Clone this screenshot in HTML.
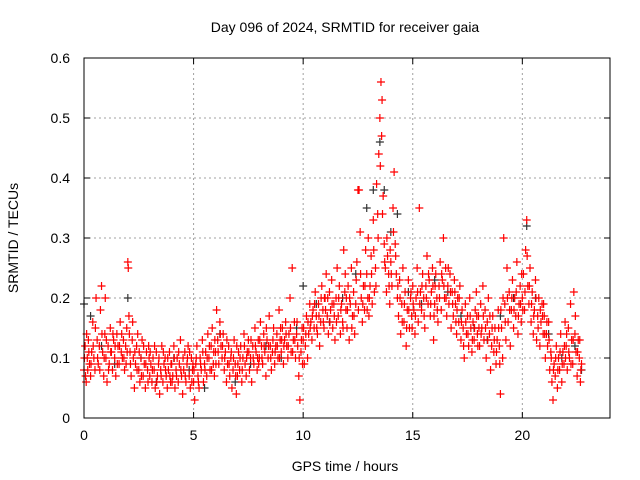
<!DOCTYPE html>
<html><head><meta charset="utf-8"><style>
html,body{margin:0;padding:0;background:#fff}
svg{display:block;font-family:"Liberation Sans",sans-serif}
</style></head><body>
<svg id="chart" width="640" height="480" viewBox="0 0 640 480">
<rect width="640" height="480" fill="#fff"/>
<text x="345" y="32" font-size="14" text-anchor="middle" fill="#000">Day 096 of 2024, SRMTID for receiver gaia</text>
<text x="345" y="471" font-size="14" text-anchor="middle">GPS time / hours</text>
<text transform="translate(18,238) rotate(-90)" font-size="14" text-anchor="middle">SRMTID / TECUs</text>
<g id="grid"></g>
<g id="ticks"></g>
<g id="black"></g>
<g id="red"></g>
<rect x="84" y="58" width="526" height="360" fill="none" stroke="#000" stroke-width="1"/>
</svg>
<script>
const xTicks=[0,5,10,15,20];
const yTicks=[0,0.1,0.2,0.3,0.4,0.5,0.6];
const yTickLabels=["0","0.1","0.2","0.3","0.4","0.5","0.6"];
const redPoints=[
[0.0,.08],[0.05,.12],[0.1,.06],[0.15,.1],[0.2,.13],[0.25,.09],[0.3,.07],[0.35,.11],[0.4,.16],[0.45,.1],[0.5,.08],[0.55,.2],[0.6,.13],[0.65,.09],[0.7,.12],[0.75,.18],[0.8,.22],[0.85,.11],[0.9,.07],[0.95,.14],
[1.0,.1],[1.05,.06],[1.1,.12],[1.15,.09],[1.2,.15],[1.25,.11],[1.3,.08],[1.35,.13],[1.4,.1],[1.45,.07],[1.5,.14],[1.55,.12],[1.6,.09],[1.65,.16],[1.7,.11],[1.75,.1],[1.8,.13],[1.85,.08],[1.9,.12],[1.95,.15],
[2.0,.26],[2.02,.25],[2.05,.17],[2.1,.11],[2.15,.07],[2.2,.13],[2.25,.1],[2.3,.05],[2.35,.09],[2.4,.12],[2.45,.14],[2.5,.08],[2.55,.06],[2.6,.1],[2.65,.13],[2.7,.07],[2.75,.09],[2.8,.05],[2.85,.11],[2.9,.08],[2.95,.12],
[3.0,.07],[3.05,.09],[3.1,.06],[3.15,.1],[3.2,.08],[3.25,.05],[3.3,.11],[3.35,.07],[3.4,.09],[3.45,.04],[3.5,.08],[3.55,.12],[3.6,.06],[3.65,.09],[3.7,.1],[3.75,.07],[3.8,.05],[3.85,.08],[3.9,.11],[3.95,.06],
[4.0,.09],[4.05,.07],[4.1,.12],[4.15,.05],[4.2,.08],[4.25,.1],[4.3,.06],[4.35,.09],[4.4,.13],[4.45,.07],[4.5,.04],[4.55,.08],[4.6,.11],[4.65,.06],[4.7,.09],[4.75,.12],[4.8,.07],[4.85,.05],[4.9,.1],[4.95,.08],
[5.0,.06],[5.05,.03],[5.1,.09],[5.15,.12],[5.2,.07],[5.25,.05],[5.3,.1],[5.35,.08],[5.4,.13],[5.45,.06],[5.5,.09],[5.55,.11],[5.6,.07],[5.65,.14],[5.7,.1],[5.75,.08],[5.8,.12],[5.85,.15],[5.9,.09],[5.95,.07],
[6.0,.11],[6.05,.18],[6.1,.13],[6.15,.09],[6.2,.16],[6.25,.12],[6.3,.1],[6.35,.14],[6.4,.08],[6.45,.11],[6.5,.06],[6.55,.09],[6.6,.12],[6.65,.07],[6.7,.1],[6.75,.05],[6.8,.08],[6.85,.13],[6.9,.09],[6.95,.04],
[7.0,.07],[7.05,.11],[7.1,.08],[7.15,.12],[7.2,.06],[7.25,.1],[7.3,.14],[7.35,.09],[7.4,.07],[7.45,.11],[7.5,.13],[7.55,.08],[7.6,.1],[7.65,.06],[7.7,.12],[7.75,.09],[7.8,.15],[7.85,.11],[7.9,.08],[7.95,.13],
[8.0,.1],[8.05,.16],[8.1,.12],[8.15,.09],[8.2,.14],[8.25,.11],[8.3,.07],[8.35,.13],[8.4,.1],[8.45,.17],[8.5,.12],[8.55,.08],[8.6,.11],[8.65,.15],[8.7,.09],[8.75,.12],[8.8,.14],[8.85,.1],[8.9,.18],[8.95,.13],
[9.0,.11],[9.05,.15],[9.1,.09],[9.15,.13],[9.2,.16],[9.25,.12],[9.3,.1],[9.35,.14],[9.4,.2],[9.45,.11],[9.5,.25],[9.55,.13],[9.6,.16],[9.65,.1],[9.7,.14],[9.75,.12],[9.8,.07],[9.85,.03],[9.9,.11],[9.95,.15],
[10.0,.13],[10.05,.09],[10.1,.12],[10.15,.17],[10.2,.1],[10.25,.14],[10.3,.19],[10.35,.16],[10.4,.13],[10.45,.18],[10.5,.15],[10.55,.21],[10.6,.17],[10.65,.14],[10.7,.19],[10.75,.12],[10.8,.16],[10.85,.22],[10.9,.18],[10.95,.15],
[11.0,.2],[11.05,.24],[11.1,.17],[11.15,.14],[11.2,.21],[11.25,.18],[11.3,.23],[11.35,.15],[11.4,.19],[11.45,.13],[11.5,.2],[11.55,.25],[11.6,.17],[11.65,.22],[11.7,.14],[11.75,.19],[11.8,.16],[11.85,.28],[11.9,.21],[11.95,.18],
[12.0,.15],[12.05,.22],[12.1,.13],[12.15,.19],[12.2,.25],[12.25,.17],[12.3,.21],[12.35,.14],[12.4,.19],[12.45,.26],[12.5,.38],[12.55,.38],[12.6,.31],[12.65,.2],[12.7,.16],[12.75,.22],[12.8,.18],[12.85,.28],[12.9,.24],[12.95,.2],
[13.0,.17],[13.05,.22],[13.1,.27],[13.15,.19],[13.2,.33],[13.25,.21],[13.3,.25],[13.35,.39],[13.4,.34],[13.45,.44],[13.5,.5],[13.55,.56],[13.6,.53],[13.65,.37],[13.7,.29],[13.75,.25],[13.8,.21],[13.85,.27],[13.9,.24],[13.95,.19],
[14.0,.26],[14.05,.22],[14.1,.35],[14.15,.41],[14.2,.29],[14.25,.24],[14.3,.2],[14.35,.17],[14.4,.23],[14.45,.14],[14.5,.19],[14.55,.25],[14.6,.16],[14.65,.21],[14.7,.12],[14.75,.18],[14.8,.23],[14.85,.15],[14.9,.2],[14.95,.17],
[15.0,.22],[15.05,.18],[15.1,.14],[15.15,.2],[15.2,.25],[15.25,.16],[15.3,.35],[15.35,.21],[15.4,.18],[15.45,.24],[15.5,.2],[15.55,.15],[15.6,.22],[15.65,.27],[15.7,.19],[15.75,.23],[15.8,.17],[15.85,.21],[15.9,.25],[15.95,.13],
[16.0,.19],[16.05,.24],[16.1,.2],[16.15,.16],[16.2,.22],[16.25,.26],[16.3,.18],[16.35,.23],[16.4,.3],[16.45,.2],[16.5,.25],[16.55,.17],[16.6,.22],[16.65,.19],[16.7,.24],[16.75,.15],[16.8,.21],[16.85,.17],[16.9,.23],[16.95,.19],
[17.0,.14],[17.05,.2],[17.1,.16],[17.15,.22],[17.2,.13],[17.25,.18],[17.3,.15],[17.35,.1],[17.4,.19],[17.45,.14],[17.5,.17],[17.55,.12],[17.6,.2],[17.65,.15],[17.7,.11],[17.75,.16],[17.8,.13],[17.85,.18],[17.9,.21],[17.95,.14],
[18.0,.17],[18.05,.12],[18.1,.19],[18.15,.15],[18.2,.22],[18.25,.13],[18.3,.18],[18.35,.1],[18.4,.16],[18.45,.2],[18.5,.14],[18.55,.08],[18.6,.12],[18.65,.17],[18.7,.11],[18.75,.15],[18.8,.09],[18.85,.13],[18.9,.18],[18.95,.12],
[19.0,.04],[19.05,.15],[19.1,.1],[19.15,.3],[19.2,.19],[19.25,.13],[19.3,.25],[19.35,.16],[19.4,.21],[19.45,.12],[19.5,.18],[19.55,.23],[19.6,.15],[19.65,.2],[19.7,.17],[19.75,.26],[19.8,.14],[19.85,.19],[19.9,.22],[19.95,.16],
[20.0,.2],[20.05,.24],[20.1,.18],[20.15,.28],[20.2,.33],[20.25,.22],[20.3,.19],[20.35,.25],[20.4,.16],[20.45,.21],[20.5,.14],[20.55,.18],[20.6,.23],[20.65,.13],[20.7,.17],[20.75,.2],[20.8,.12],[20.85,.16],[20.9,.19],[20.95,.14],
[21.0,.17],[21.05,.1],[21.1,.14],[21.15,.12],[21.2,.16],[21.25,.08],[21.3,.11],[21.35,.06],[21.4,.03],[21.45,.09],[21.5,.07],[21.55,.12],[21.6,.05],[21.65,.1],[21.7,.08],[21.75,.14],[21.8,.06],[21.85,.11],[21.9,.09],[21.95,.16],
[22.0,.12],[22.05,.08],[22.1,.15],[22.15,.1],[22.2,.19],[22.25,.13],[22.3,.09],[22.35,.21],[22.4,.14],[22.45,.11],[22.5,.07],[22.55,.13],[22.6,.1],[22.65,.06],[22.7,.09]
];
const redPointsExtra=[
[0.02,.1],[0.07,.07],[0.12,.14],[0.17,.08],[0.22,.11],[0.32,.09],[0.42,.12],[0.52,.15],[0.62,.1],[0.72,.08],[0.82,.14],[0.92,.1],[0.97,.2],
[1.02,.13],[1.12,.08],[1.22,.11],[1.32,.14],[1.42,.12],[1.52,.09],[1.62,.12],[1.72,.14],[1.82,.1],[1.92,.09],[1.97,.11],
[2.07,.14],[2.12,.09],[2.22,.16],[2.32,.11],[2.42,.08],[2.52,.11],[2.62,.07],[2.72,.12],[2.82,.09],[2.92,.06],[2.97,.1],
[3.02,.11],[3.12,.08],[3.22,.12],[3.32,.06],[3.42,.1],[3.52,.07],[3.62,.11],[3.72,.08],[3.82,.1],[3.92,.07],[3.97,.09],
[4.02,.06],[4.12,.1],[4.22,.07],[4.32,.11],[4.42,.08],[4.52,.1],[4.62,.07],[4.72,.1],[4.82,.11],[4.92,.06],[4.97,.09],
[5.02,.08],[5.12,.1],[5.22,.06],[5.32,.09],[5.42,.11],[5.52,.08],[5.62,.1],[5.72,.12],[5.82,.08],[5.92,.11],[5.97,.13],
[6.02,.09],[6.12,.11],[6.22,.14],[6.32,.12],[6.42,.1],[6.52,.13],[6.62,.09],[6.72,.11],[6.82,.1],[6.92,.07],[6.97,.12],
[7.02,.09],[7.12,.1],[7.22,.08],[7.32,.12],[7.42,.1],[7.52,.11],[7.62,.13],[7.72,.1],[7.82,.12],[7.92,.1],[7.97,.09],
[8.02,.13],[8.12,.1],[8.22,.12],[8.32,.15],[8.42,.12],[8.52,.1],[8.62,.13],[8.72,.11],[8.82,.12],[8.92,.1],[8.97,.15],
[9.02,.13],[9.12,.12],[9.22,.14],[9.32,.12],[9.42,.15],[9.52,.11],[9.62,.13],[9.72,.16],[9.82,.1],[9.92,.13],[9.97,.09],
[10.02,.15],[10.12,.14],[10.22,.16],[10.32,.15],[10.42,.17],[10.52,.19],[10.62,.15],[10.72,.17],[10.82,.2],[10.92,.16],[10.97,.2],
[11.02,.18],[11.12,.2],[11.22,.16],[11.32,.19],[11.42,.17],[11.52,.16],[11.62,.2],[11.72,.18],[11.82,.15],[11.92,.24],[11.97,.2],
[12.02,.18],[12.12,.2],[12.22,.15],[12.32,.17],[12.42,.23],[12.52,.18],[12.62,.24],[12.72,.19],[12.82,.22],[12.92,.18],[12.97,.3],
[13.02,.2],[13.12,.24],[13.22,.28],[13.32,.22],[13.42,.3],[13.52,.42],[13.58,.47],[13.62,.34],[13.72,.26],[13.82,.3],[13.92,.22],[13.97,.28],
[14.02,.24],[14.12,.31],[14.22,.27],[14.32,.22],[14.42,.2],[14.52,.16],[14.62,.19],[14.72,.15],[14.82,.18],[14.92,.21],[14.97,.15],
[15.02,.19],[15.12,.17],[15.22,.21],[15.32,.19],[15.42,.22],[15.52,.17],[15.62,.2],[15.72,.24],[15.82,.19],[15.92,.22],[15.97,.17],
[16.02,.22],[16.12,.18],[16.22,.2],[16.32,.24],[16.42,.22],[16.52,.2],[16.62,.25],[16.72,.21],[16.82,.19],[16.92,.21],[16.97,.16],
[17.02,.18],[17.12,.2],[17.22,.16],[17.32,.12],[17.42,.16],[17.52,.14],[17.62,.17],[17.72,.13],[17.82,.15],[17.92,.17],[17.97,.12],
[18.02,.15],[18.12,.14],[18.22,.17],[18.32,.15],[18.42,.13],[18.52,.17],[18.62,.15],[18.72,.13],[18.82,.11],[18.92,.15],[18.97,.09],
[19.02,.18],[19.12,.2],[19.22,.16],[19.32,.2],[19.42,.18],[19.52,.2],[19.62,.18],[19.72,.21],[19.82,.17],[19.92,.19],[19.97,.24],
[20.02,.18],[20.12,.21],[20.22,.27],[20.32,.22],[20.42,.19],[20.52,.17],[20.62,.2],[20.72,.15],[20.82,.18],[20.92,.17],[20.97,.19],
[21.02,.14],[21.12,.16],[21.22,.13],[21.32,.1],[21.42,.08],[21.52,.1],[21.62,.08],[21.72,.11],[21.82,.09],[21.92,.12],[21.97,.1],
[22.02,.14],[22.12,.11],[22.22,.09],[22.32,.13],[22.42,.17],[22.52,.11],[22.62,.13],[22.67,.08]
];
const blackPoints=[
[0.0,.19],[0.3,.17],[0.8,.12],[1.4,.09],[2.0,.2],[2.6,.1],[3.3,.06],[4.1,.1],[4.8,.08],[5.5,.05],[6.2,.14],[6.9,.06],[7.6,.09],[8.3,.12],[9.0,.1],[9.7,.15],[10.0,.22],[10.6,.19],[11.2,.16],[11.8,.2],
[12.4,.24],[12.9,.35],[13.2,.38],[13.5,.46],[13.7,.38],[14.0,.31],[14.3,.34],[14.8,.21],[15.4,.19],[16.0,.23],[16.6,.21],[17.2,.17],[17.8,.15],[18.4,.13],[19.0,.17],[19.6,.2],[20.2,.32],[20.6,.2],[21.2,.14],[21.8,.1],[22.4,.12],[22.7,.08]
];
const NS="http://www.w3.org/2000/svg";
const L=84,R=610,T=58,B=418,XMAX=24,YMAX=0.6;
const xs=v=>L+(R-L)*v/XMAX;
const ys=v=>B-(B-T)*v/YMAX;
function mk(tag,attrs,parent){const e=document.createElementNS(NS,tag);for(const k in attrs)e.setAttribute(k,attrs[k]);parent.appendChild(e);return e;}
const grid=document.getElementById('grid'),ticks=document.getElementById('ticks');
xTicks.forEach(t=>{
  const x=xs(t);
  if(t>0){const g=mk('line',{x1:x,x2:x,y1:T,y2:B,stroke:'#a0a0a0','stroke-dasharray':'2,3'},grid);
  
  }
  const a=mk('line',{x1:x,x2:x,y1:B,y2:B-6,stroke:'#000'},ticks);
  
  
  const b=mk('line',{x1:x,x2:x,y1:T,y2:T+6,stroke:'#000'},ticks);
  
  
  const lb=mk('text',{x:x,y:B+22,'font-size':'14','text-anchor':'middle'},ticks);lb.textContent=String(t);
  
  
});
yTicks.forEach((t,i)=>{
  const y=ys(t);
  if(t>0&&t<YMAX){const g=mk('line',{x1:L,x2:R,y1:y,y2:y,stroke:'#a0a0a0','stroke-dasharray':'2,3'},grid);
  
  }
  const a=mk('line',{x1:L,x2:L+6,y1:y,y2:y,stroke:'#000'},ticks);
  
  
  const b=mk('line',{x1:R,x2:R-6,y1:y,y2:y,stroke:'#000'},ticks);
  
  
  const lb=mk('text',{x:L-14,y:y+5,'font-size':'14','text-anchor':'end'},ticks);lb.textContent=yTickLabels[i];
  
  
});
function plus(g,p,color,name){
  const x=xs(p[0]),y=ys(p[1]);
  const e=mk('path',{d:`M${x-4},${y}H${x+4}M${x},${y-4}V${y+4}`,stroke:color,'stroke-width':'1.2',fill:'none'},g);
  
  
}
const bg=document.getElementById('black'),rg=document.getElementById('red');
blackPoints.forEach(p=>plus(bg,p,'#333','black-point'));
redPoints.forEach(p=>plus(rg,p,'#ff0000','red-point'));
redPointsExtra.forEach(p=>plus(rg,p,'#ff0000','red-point'));
</script>
</body></html>
